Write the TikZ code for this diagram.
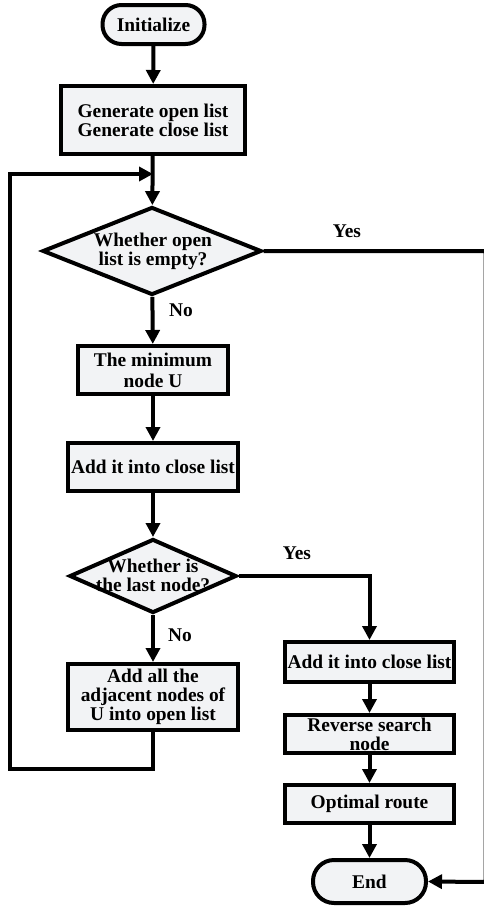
\documentclass[tikz,border=0pt]{standalone}
\usepackage{fontspec}
\setmainfont{Liberation Serif}
\usetikzlibrary{arrows.meta,shapes.geometric}
\definecolor{boxfill}{RGB}{242,243,245}
\tikzset{
  flow/.style={line width=4pt},
  arr/.style={flow,-{Triangle[width=14pt,length=14pt]}},
  txt/.style={font=\fontsize{19.4}{19}\selectfont\bfseries, align=center, inner sep=0pt},
  procbox/.style={txt, draw, fill=boxfill, line width=4pt},
  termbox/.style={txt, draw, fill=boxfill, line width=4pt, rounded corners=19pt},
  decbox/.style={diamond, draw, fill=boxfill, line width=4pt, inner sep=0pt, line join=miter},
  lbl/.style={txt}
}
\begin{document}
\begin{tikzpicture}[x=1pt,y=-1pt]
\useasboundingbox (0,0) rectangle (484,910);

% main column
\node[termbox, minimum width=102, minimum height=39] (init) at (153.5,24.5) {Initialize};
\node[procbox, minimum width=184, minimum height=68] (gen) at (153,120) {Generate open list\\Generate close list};
\node[decbox, minimum width=219, minimum height=88] (d1) at (152,251) {};
\node[txt] (d1t) at (153,251) {Whether open\\list is empty?};
\node[procbox, minimum width=150, minimum height=48] (minu) at (153,370) {The minimum\\[2pt]node U};
\node[procbox, minimum width=170, minimum height=48] (addc) at (153,467) {Add it into close list};
\node[decbox, minimum width=167, minimum height=74] (d2) at (153,576) {};
\node[txt] (d2t) at (153,575) {Whether is\\the last node?};
\node[procbox, minimum width=170, minimum height=66] (addall) at (153,697) {Add all the\\adjacent nodes of\\U into open list};

% right column
\node[procbox, minimum width=169, minimum height=40] (addc2) at (369.5,662) {Add it into close list};
\node[procbox, minimum width=169, minimum height=38] (rev) at (369.5,734) {Reverse search\\node};
\node[procbox, minimum width=169, minimum height=38] (opt) at (369.5,804) {Optimal route};
\node[termbox, minimum width=113, minimum height=43, rounded corners=21pt] (end) at (369.5,881.5) {End};

% branch labels
\node[lbl] (yes1) at (347,231) {Yes};
\node[lbl] (no1) at (181,310) {No};
\node[lbl] (yes2) at (297,553) {Yes};
\node[lbl] (no2) at (180,635) {No};

% helper points
\coordinate (join) at (153,174);
\coordinate (loopa) at (153,769);
\coordinate (loopb) at (10,769);
\coordinate (loopc) at (10,174);
\coordinate (edgetop) at (485.5,251);
\coordinate (edgebot) at (485.5,882);
\coordinate (turn2) at (369.5,576);

% connectors
\draw[arr] (init) -- (gen);
\draw[arr] (gen) -- (d1);
\draw[arr] (d1) -- (minu);
\draw[arr] (minu) -- (addc);
\draw[arr] (addc) -- (d2);
\draw[arr] (d2) -- (addall);
\draw[arr] (addall.south) -- (loopa) -- (loopb) -- (loopc) -- (join);
\draw[arr] (d2.east) -- (turn2) -- (addc2);
\draw[arr] (addc2) -- (rev);
\draw[arr] (rev) -- (opt);
\draw[arr] (opt) -- (end);
\draw[arr] (d1.east) -- (edgetop) -- (edgebot) -- (end.east);
\end{tikzpicture}
\end{document}
